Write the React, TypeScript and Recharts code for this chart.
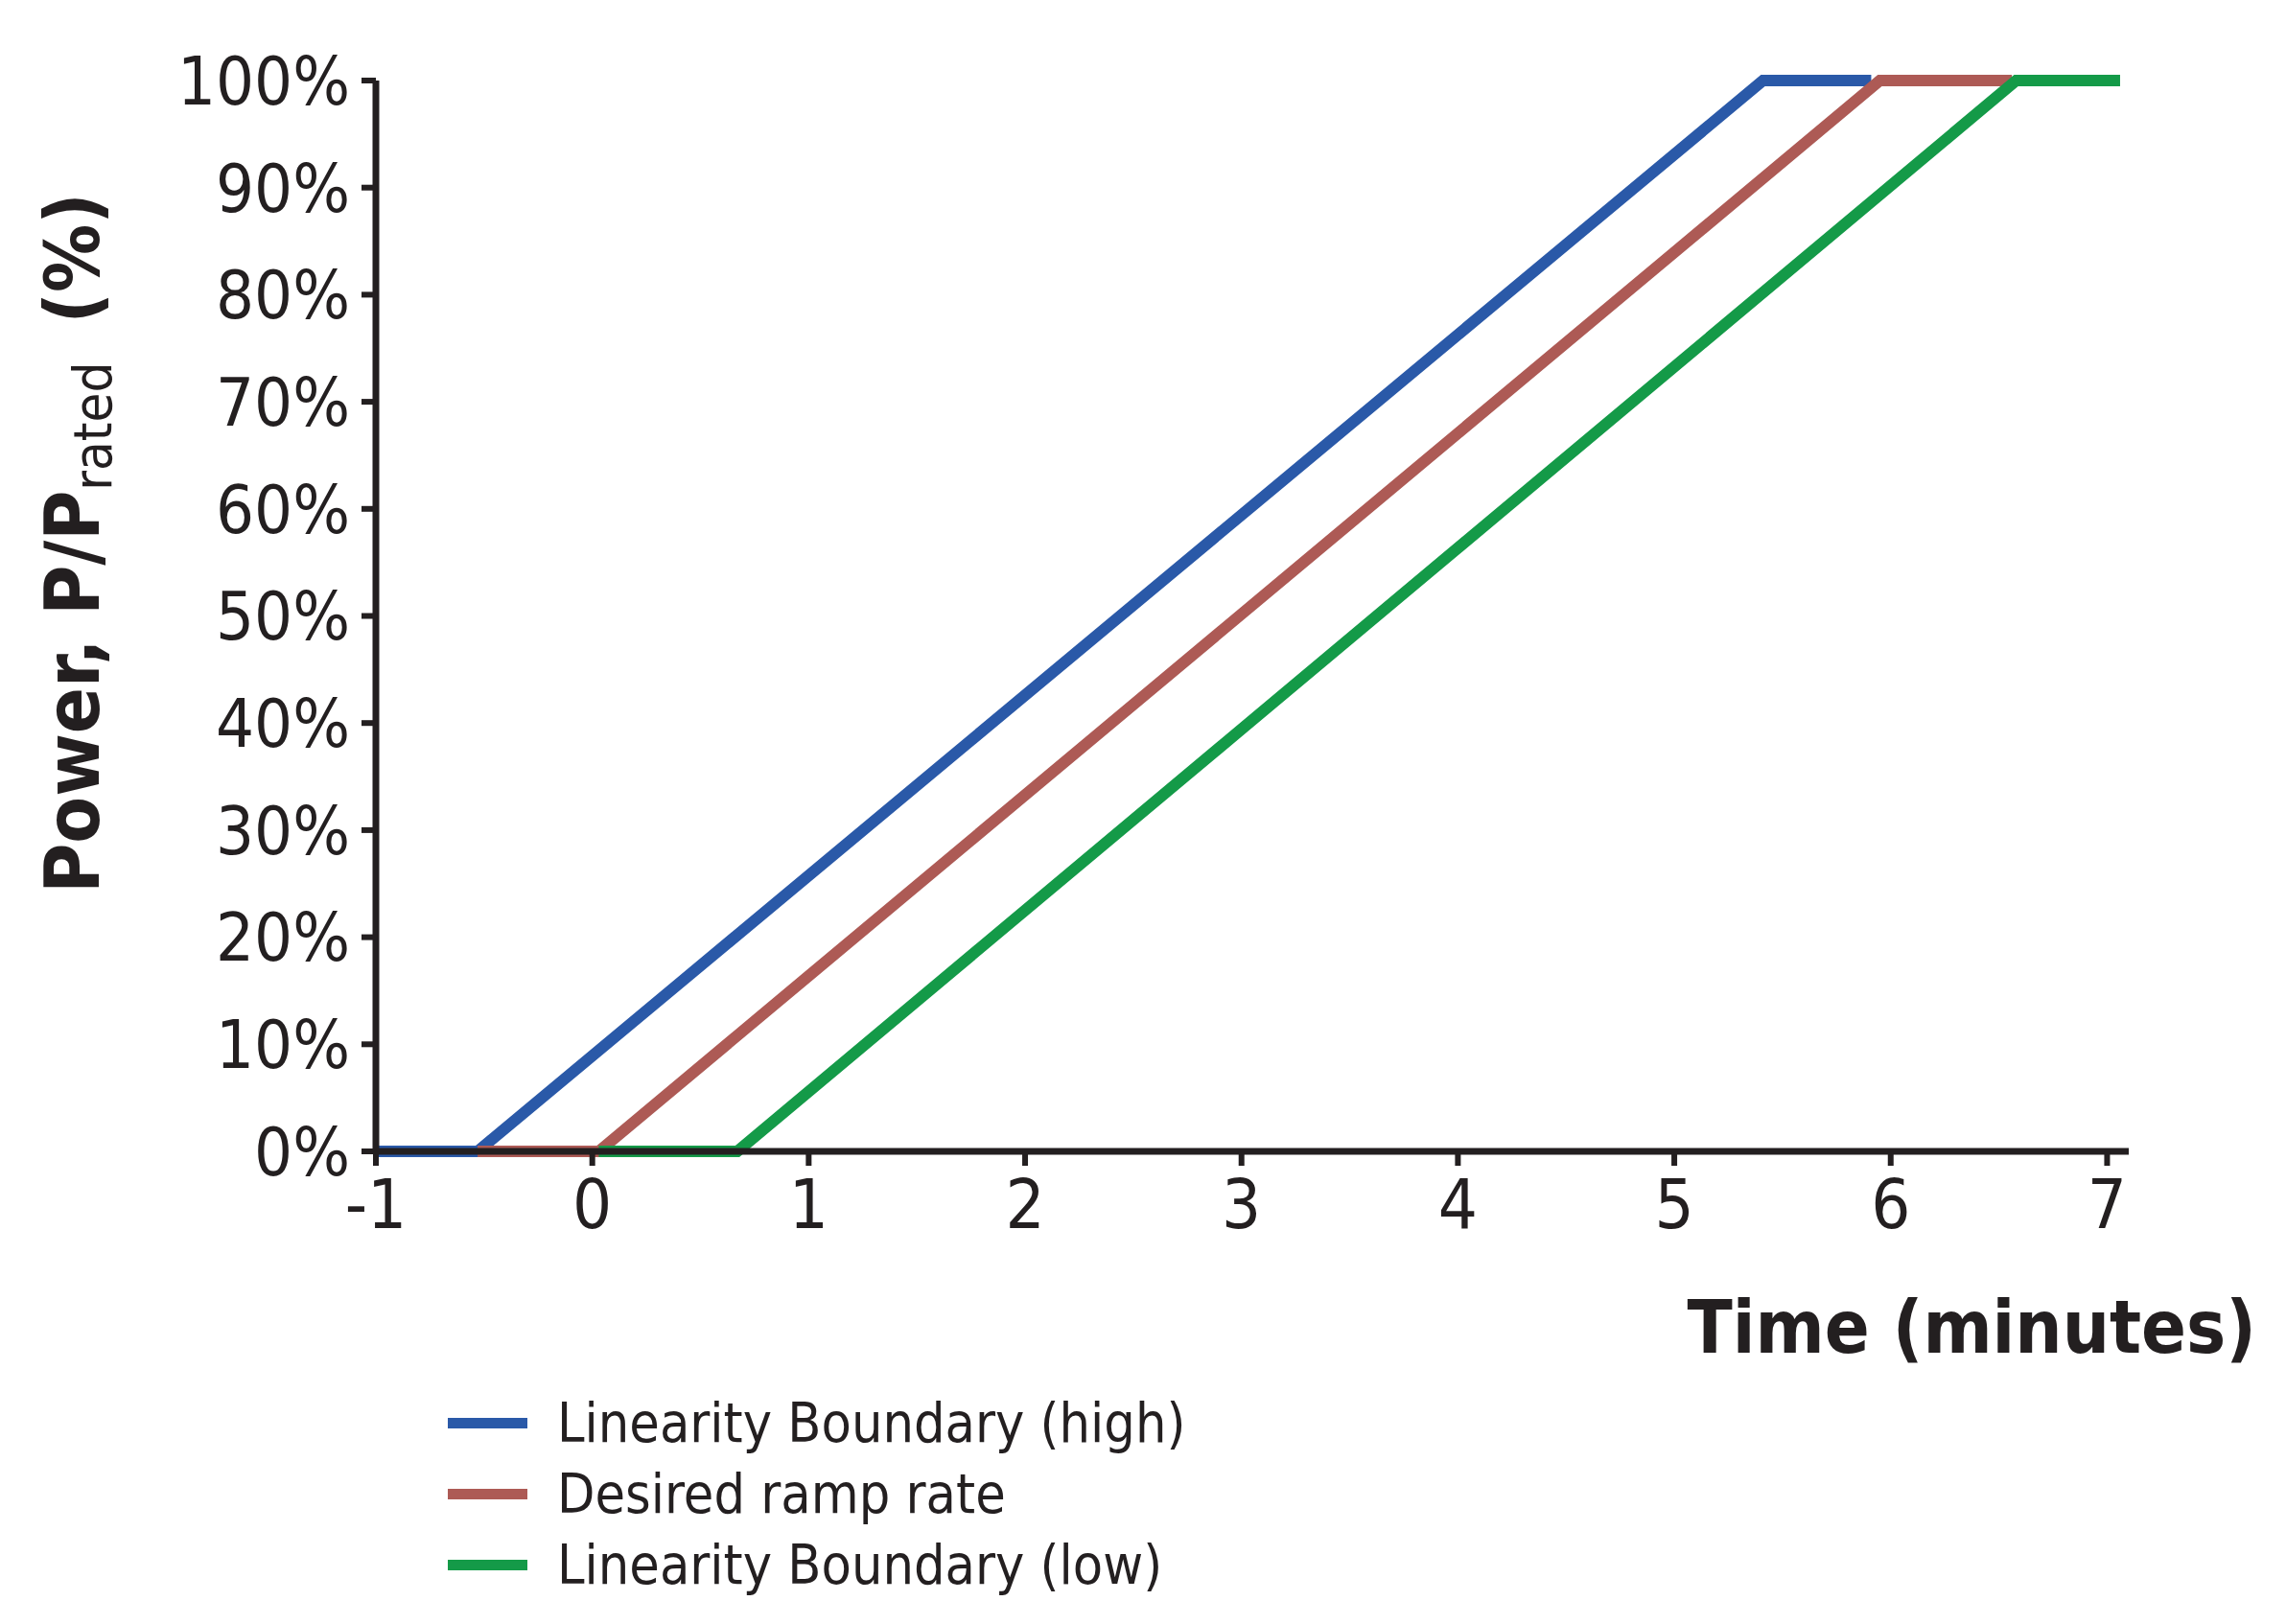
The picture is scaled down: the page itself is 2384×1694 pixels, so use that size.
import React from "react"
import { LineChart, Line, XAxis, YAxis, Legend, Label } from "recharts"

// time (minutes) -> power (% of rated)
const highTimes = [-1, -0.53, 5.41, 5.91]
const highPower = [0, 0, 100, 100]
const desiredTimes = [-0.53, 0.03, 5.95, 6.56]
const desiredPower = [0, 0, 100, 100]
const lowTimes = [0.03, 0.67, 6.58, 7.06]
const lowPower = [0, 0, 100, 100]

const xTicks = [-1, 0, 1, 2, 3, 4, 5, 6, 7]
const yTicks = [0, 10, 20, 30, 40, 50, 60, 70, 80, 90, 100]

const toRows = (ts: number[], ps: number[]) => ts.map((t, i) => ({ t, p: ps[i] }))

const series = [
  { name: "Linearity Boundary (high)", color: "#2a59a8", data: toRows(highTimes, highPower) },
  { name: "Desired ramp rate", color: "#ad5a55", data: toRows(desiredTimes, desiredPower) },
  { name: "Linearity Boundary (low)", color: "#149a48", data: toRows(lowTimes, lowPower) },
]

const INK = "#231f20"
const NARROW = "'Liberation Sans Narrow', 'DejaVu Sans Condensed', sans-serif"

function YTitle(props: any) {
  const vb = props.viewBox || { x: 84, y: 76, width: 300, height: 1117 }
  const x = vb.x + 11
  const y = vb.y + vb.height / 2 - 76
  return (
    <text
      x={0}
      y={0}
      transform={`translate(${x},${y}) rotate(-90)`}
      textAnchor="middle"
      fill={INK}
      fontFamily={NARROW}
      fontSize={79}
    >
      <tspan fontWeight="bold">Power, P/P</tspan>
      <tspan fontSize={56} dy={13}>rated</tspan>
      <tspan fontWeight="bold" dy={-13} dx={40}>(%)</tspan>
    </text>
  )
}

function XTitle(props: any) {
  const vb = props.viewBox || { x: 384, y: 1193, width: 1828, height: 240 }
  return (
    <text
      x={vb.x + vb.width + 133}
      y={vb.y + 210}
      textAnchor="end"
      fill={INK}
      fontFamily={NARROW}
      fontWeight="bold"
      fontSize={77}
    >
      Time (minutes)
    </text>
  )
}

function LegendBox(props: any) {
  const payload = [...(props.payload || [])].sort(
    (a: any, b: any) =>
      series.findIndex((s) => s.name === a.value) - series.findIndex((s) => s.name === b.value)
  )
  return (
    <div style={{ fontFamily: NARROW }}>
      {payload.map((entry: any) => (
        <div key={entry.value} style={{ display: "flex", alignItems: "center", height: 74 }}>
          <span style={{ display: "inline-block", width: 83, height: 11, background: entry.color, marginRight: 31 }} />
          <span style={{ fontSize: 57, color: INK, lineHeight: "74px" }}>{entry.value}</span>
        </div>
      ))}
    </div>
  )
}

export default function App() {
  return (
    <LineChart width={2368} height={1678} margin={{ top: 76, right: 156, left: 84, bottom: 245 }}>
      <XAxis
        dataKey="t"
        type="number"
        domain={[-1, 7.1]}
        ticks={xTicks}
        allowDataOverflow
        axisLine={{ stroke: INK, strokeWidth: 7 }}
        tickLine={{ stroke: INK, strokeWidth: 6 }}
        tickSize={15}
        tickMargin={14}
        height={240}
        tick={{ fill: INK, fontSize: 72, fontFamily: NARROW }}
      >
        <Label content={XTitle} />
      </XAxis>
      <YAxis
        dataKey="p"
        type="number"
        domain={[0, 100]}
        ticks={yTicks}
        width={300}
        axisLine={{ stroke: INK, strokeWidth: 7 }}
        tickLine={{ stroke: INK, strokeWidth: 6 }}
        tickSize={15}
        tickMargin={12}
        tickFormatter={(v) => `${v}%`}
        tick={{ fill: INK, fontSize: 70, fontFamily: NARROW }}
      >
        <Label content={YTitle} />
      </YAxis>
      <Legend
        layout="vertical"
        align="center"
        verticalAlign="middle"
        content={LegendBox}
        wrapperStyle={{ left: 459, top: 1439, width: 900, height: "auto" }}
      />
      {series.map((s) => (
        <Line
          key={s.name}
          data={s.data}
          dataKey="p"
          name={s.name}
          type="linear"
          stroke={s.color}
          strokeWidth={12}
          strokeLinejoin="miter"
          dot={false}
          activeDot={false}
          isAnimationActive={false}
        />
      ))}
    </LineChart>
  )
}
